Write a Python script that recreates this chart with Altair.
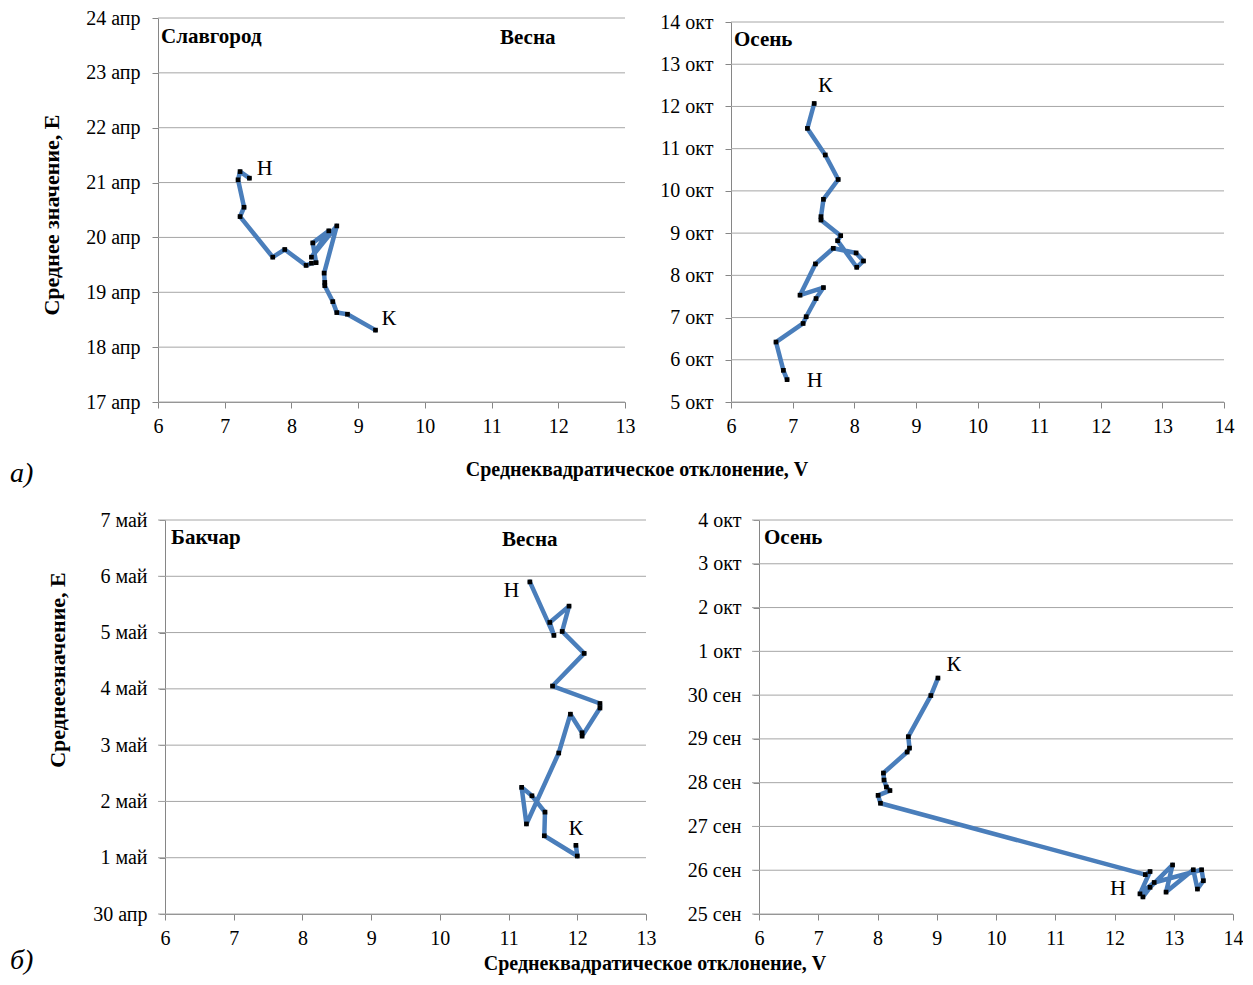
import altair as alt
import pandas as pd

SERIF = "Liberation Serif"
BLUE = "#4A7EBB"
AXIS_GRAY = "#868686"
GRID_GRAY = "#a6a6a6"

# ---- data: (std deviation V, mean date E) paths ----
# а) Славгород, весна (y: day of April)
x1 = [7.37, 7.23, 7.20, 7.29, 7.23, 7.72, 7.90, 8.22, 8.30, 8.37, 8.32, 8.56, 8.30, 8.68, 8.49, 8.50, 8.50, 8.62, 8.68, 8.84, 9.26]
y1 = [21.08, 21.20, 21.05, 20.55, 20.38, 19.64, 19.78, 19.49, 19.53, 19.54, 19.90, 20.12, 19.64, 20.21, 19.35, 19.18, 19.12, 18.83, 18.63, 18.60, 18.31]
# а) Славгород, осень (y: day of October)
x2 = [6.91, 6.85, 6.73, 7.17, 7.22, 7.38, 7.50, 7.12, 7.37, 7.66, 8.03, 8.15, 8.04, 7.73, 7.78, 7.46, 7.46, 7.50, 7.74, 7.53, 7.24, 7.35]
y2 = [5.53, 5.75, 6.42, 6.86, 7.02, 7.45, 7.71, 7.53, 8.27, 8.64, 8.53, 8.34, 8.19, 8.82, 8.94, 9.31, 9.39, 9.80, 10.27, 10.85, 11.48, 12.07]
# б) Бакчар, весна (y: 0 = 30 апр, k = k май)
x3 = [11.31, 11.66, 11.60, 11.88, 11.78, 12.10, 11.64, 12.33, 12.33, 12.07, 12.07, 11.90, 11.73, 11.26, 11.19, 11.34, 11.53, 11.52, 12.00, 11.98]
y3 = [5.90, 4.95, 5.18, 5.47, 5.02, 4.63, 4.05, 3.74, 3.66, 3.16, 3.22, 3.55, 2.86, 1.60, 2.25, 2.10, 1.81, 1.39, 1.03, 1.22]
# б) Бакчар, осень (y: day of September, >30 -> October)
x4 = [12.48, 12.60, 12.98, 12.87, 13.33, 13.40, 13.50, 13.47, 12.67, 12.43, 12.60, 12.52, 8.05, 8.01, 8.21, 8.15, 8.11, 8.10, 8.50, 8.54, 8.52, 8.90, 9.02]
y4 = [25.39, 25.61, 26.12, 25.50, 26.01, 25.57, 25.76, 26.01, 25.72, 25.46, 25.97, 25.90, 27.53, 27.71, 27.82, 27.90, 28.06, 28.22, 28.70, 28.79, 29.05, 29.99, 30.39]

# start / end markers (Н = начало, К = конец)
lab_text = ["Н", "К"]
lab1_x, lab1_y = [7.60, 9.46], [21.27, 18.53]
lab2_x, lab2_y = [7.36, 7.53], [5.52, 12.51]
lab3_x, lab3_y = [11.04, 11.98], [5.76, 1.53]
lab4_x, lab4_y = [12.06, 9.29], [25.60, 30.71]

y1_ticks = list(range(17, 25))
y2_ticks = list(range(5, 15))
y3_ticks = list(range(0, 8))
y4_ticks = list(range(25, 35))
x13_ticks = list(range(6, 14))
x24_ticks = list(range(6, 15))


def text_mark(txt, x, y, size, weight="normal", style="normal", align="left", angle=0):
    return alt.Chart(pd.DataFrame({"t": [txt]})).mark_text(
        align=align, baseline="middle", font=SERIF, fontSize=size,
        fontWeight=weight, fontStyle=style, angle=angle, color="black"
    ).encode(x=alt.value(x), y=alt.value(y), text="t:N")


def panel(xs, ys, lx, ly, xdom, xticks, ydom, yticks, label_expr, width, height,
          xrange, grid_x0, grid_x1, yrange=None, yoffset=0, extra=()):
    df = pd.DataFrame({"x": xs, "y": ys, "i": list(range(len(xs)))})
    xsc = alt.Scale(domain=xdom, nice=False, zero=False, range=xrange)
    if yrange:
        ysc = alt.Scale(domain=ydom, nice=False, zero=False, range=yrange)
    else:
        ysc = alt.Scale(domain=ydom, nice=False, zero=False)
    xaxis = alt.Axis(values=xticks, grid=False, title=None, format="d",
                     labelPadding=8, labelFlush=False, labelOverlap=False,
                     labelFont=SERIF, labelFontSize=20, labelColor="black",
                     domainColor=AXIS_GRAY, tickColor=AXIS_GRAY, tickSize=6)
    yaxis = alt.Axis(values=yticks, grid=False, title=None, labelExpr=label_expr,
                     labelPadding=12, labelOverlap=False, labelFlush=False,
                     labelFont=SERIF, labelFontSize=20, labelColor="black",
                     domainColor=AXIS_GRAY, tickColor=AXIS_GRAY, tickSize=6,
                     offset=yoffset)
    gdf = pd.DataFrame({"y": yticks})
    grid = alt.Chart(gdf).mark_rule(color=GRID_GRAY, strokeWidth=1).encode(
        y=alt.Y("y:Q", scale=ysc, axis=yaxis),
        x=alt.value(grid_x0), x2=alt.value(grid_x1))
    base = alt.Chart(df).encode(x=alt.X("x:Q", scale=xsc, axis=xaxis),
                                y=alt.Y("y:Q", scale=ysc, axis=yaxis))
    line = base.mark_line(color=BLUE, strokeWidth=4.5, strokeJoin="round",
                          strokeCap="round", interpolate="linear").encode(order="i:Q")
    pts = base.mark_square(color="black", size=22, opacity=1)
    ldf = pd.DataFrame({"x": lx, "y": ly, "t": lab_text})
    labs = alt.Chart(ldf).mark_text(font=SERIF, fontSize=22, color="black").encode(
        x="x:Q", y="y:Q", text="t:N")
    return alt.layer(grid, line, pts, labs, *extra).properties(width=width, height=height)


# column 1 panels share a 488 px wide cell; column 2 panels a 502 px wide cell
p1 = panel(x1, y1, lab1_x, lab1_y, [6, 13], x13_ticks, [17, 24], y1_ticks,
           "datum.value + ' апр'", 488, 384, [0, 467], 0, 467,
           extra=[text_mark("Славгород", 3, 19, 21, weight="bold"),
                  text_mark("Весна", 342, 20, 21, weight="bold"),
                  text_mark("а)", -148, 456, 28, style="italic"),
                  text_mark("Среднее значение, E", -106, 197, 22, weight="bold", align="center", angle=270),
                  text_mark("Среднеквадратическое отклонение, V", 479, 452, 20, weight="bold", align="center")])

p2 = panel(x2, y2, lab2_x, lab2_y, [6, 14], x24_ticks, [5, 14], y2_ticks,
           "datum.value + ' окт'", 493, 384, [0, 493], 0, 493, yrange=[384, 4],
           extra=[text_mark("Осень", 3, 22, 21, weight="bold")])

p3 = panel(x3, y3, lab3_x, lab3_y, [6, 13], x13_ticks, [0, 7], y3_ticks,
           "datum.value == 0 ? '30 апр' : datum.value + ' май'", 488, 394,
           [7, 488], 0, 488, yoffset=-7,
           extra=[text_mark("Бакчар", 13, 18, 21, weight="bold"),
                  text_mark("Весна", 344, 20, 21, weight="bold"),
                  text_mark("б)", -148, 441, 28, style="italic"),
                  text_mark("Среднеезначение, E", -100, 150, 22, weight="bold", align="center", angle=270),
                  text_mark("Среднеквадратическое отклонение, V", 497, 444, 20, weight="bold", align="center")])

p4 = panel(x4, y4, lab4_x, lab4_y, [6, 14], x24_ticks, [25, 34], y4_ticks,
           "datum.value <= 30 ? datum.value + ' сен' : (datum.value - 30) + ' окт'", 502, 394,
           [28, 502], 21, 502, yoffset=-28,
           extra=[text_mark("Осень", 33, 18, 21, weight="bold")])

chart = alt.concat(
    p1, p2, p3, p4, columns=2,
    spacing={"row": 118, "column": 85}, bounds="flush", align="none"
).properties(
    padding={"left": 2, "top": 0, "right": 0, "bottom": 0}
).configure_view(stroke=None)

chart.save("out.html", embed_options={"renderer": "svg", "actions": False})
